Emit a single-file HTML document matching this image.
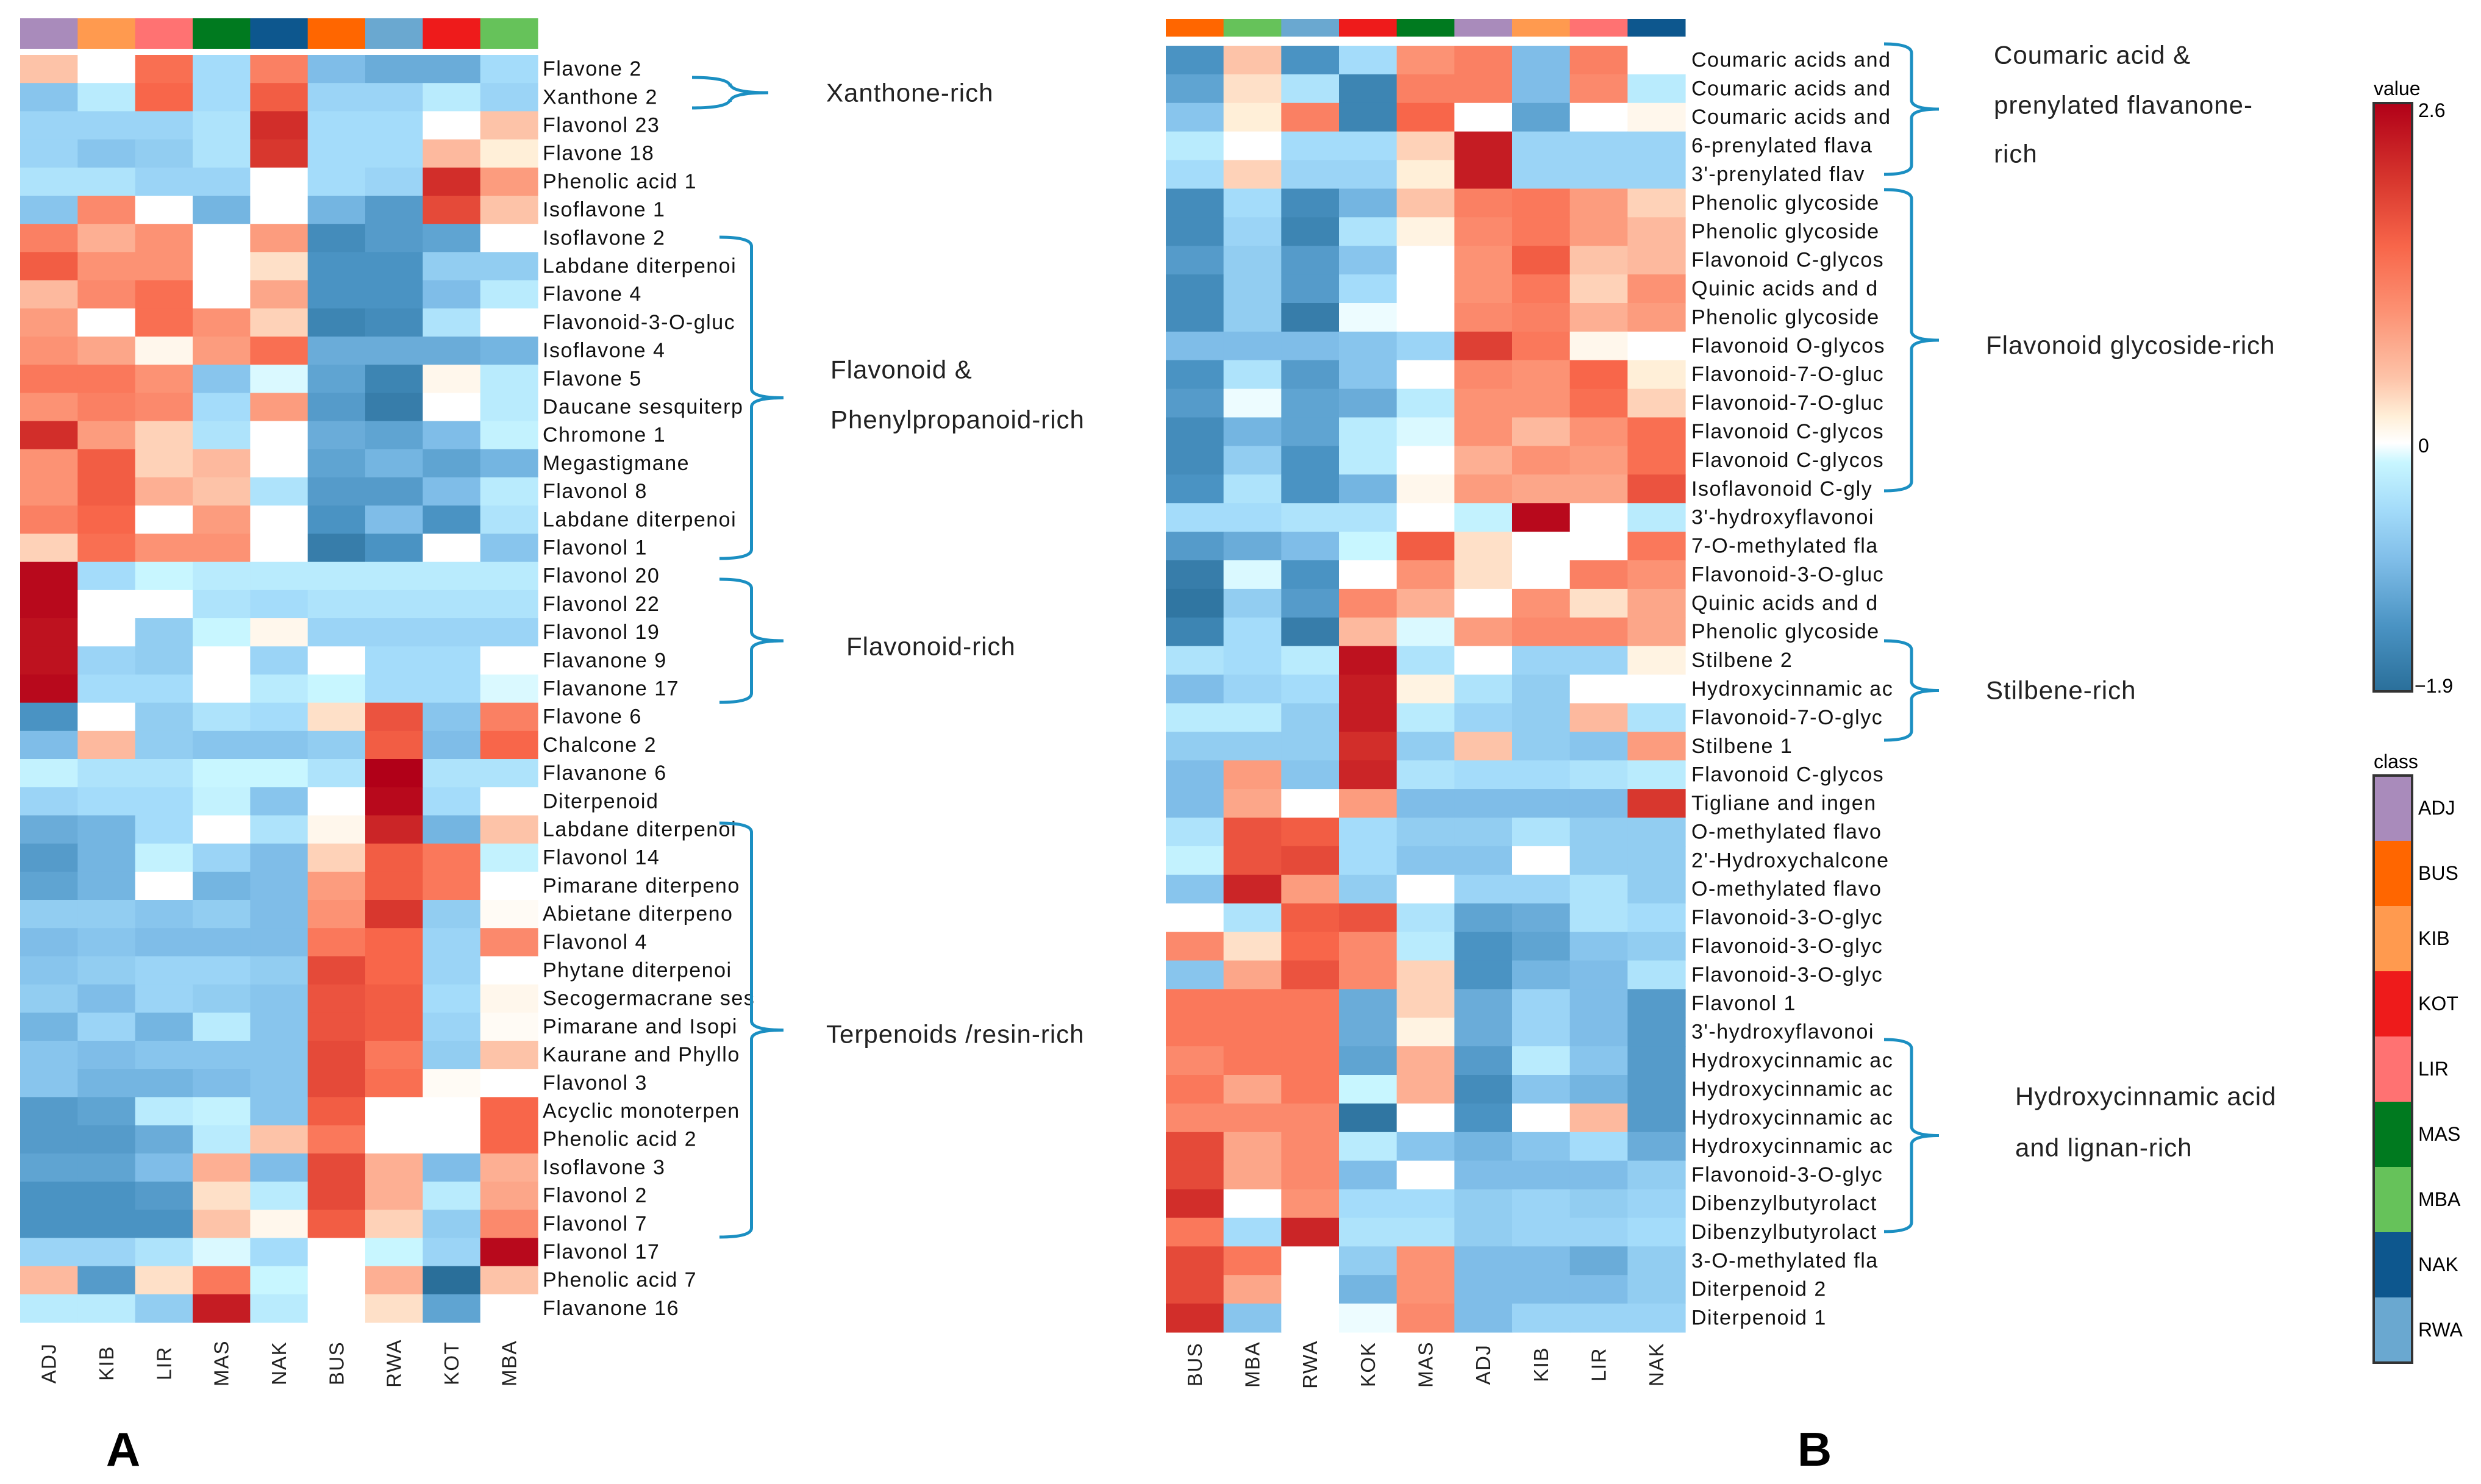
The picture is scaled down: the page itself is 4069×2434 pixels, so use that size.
<!DOCTYPE html>
<html><head><meta charset="utf-8"><style>
html,body{margin:0;padding:0;background:#fff;}
svg{display:block;font-family:"Liberation Sans",sans-serif;}
</style></head><body>
<svg id="fig" width="4069" height="2434" viewBox="0 0 4069 2434" xmlns="http://www.w3.org/2000/svg">
<defs>
<linearGradient id="cbar" x1="0" y1="1" x2="0" y2="0">
<stop offset="0" stop-color="#2a6f9a"/><stop offset="0.111" stop-color="#4a93c3"/><stop offset="0.222" stop-color="#7fbde8"/><stop offset="0.311" stop-color="#a4dcfa"/><stop offset="0.389" stop-color="#c8f6ff"/><stop offset="0.422" stop-color="#ffffff"/><stop offset="0.467" stop-color="#ffefd8"/><stop offset="0.533" stop-color="#fdc3a8"/><stop offset="0.644" stop-color="#fc9274"/><stop offset="0.756" stop-color="#f8664a"/><stop offset="0.867" stop-color="#d8372e"/><stop offset="1" stop-color="#b10018"/>
</linearGradient>
</defs>
<g id="panelA"></g>
<g id="panelB"></g>
<g id="ann" fill="none" stroke="#1b8fc2" stroke-width="5"></g>
<g>
<text x="3893" y="156" font-size="32">value</text>
<rect x="3893" y="169" width="63" height="965" fill="url(#cbar)" stroke="#333" stroke-width="4"/>
<text x="3966" y="192" font-size="32">2.6</text>
<text x="3966" y="742" font-size="32">0</text>
<text x="3960" y="1136" font-size="32">−1.9</text>
</g>
<g id="classLegend">
<text x="3893" y="1260" font-size="32">class</text>
</g>
<text x="202" y="2404" font-size="78" font-weight="bold" text-anchor="middle">A</text>
<text x="2976" y="2404" font-size="78" font-weight="bold" text-anchor="middle">B</text>
</svg>
<script>
const NS="http://www.w3.org/2000/svg";
const classColors={ADJ:"#a98bbb",BUS:"#ff6600",KIB:"#ff9a4f",KOT:"#ee1b1b",KOK:"#ee1b1b",LIR:"#ff7272",MAS:"#007a1f",MBA:"#66c25a",NAK:"#0d578e",RWA:"#6aa8d0"};
const legendClasses=["ADJ","BUS","KIB","KOT","LIR","MAS","MBA","NAK","RWA"];

const colsA=["ADJ","KIB","LIR","MAS","NAK","BUS","RWA","KOT","MBA"];
const rowsA=["Flavone 2","Xanthone 2","Flavonol 23","Flavone 18","Phenolic acid 1","Isoflavone 1","Isoflavone 2","Labdane diterpenoi","Flavone 4","Flavonoid-3-O-gluc","Isoflavone 4","Flavone 5","Daucane sesquiterp","Chromone 1","Megastigmane","Flavonol 8","Labdane diterpenoi","Flavonol 1","Flavonol 20","Flavonol 22","Flavonol 19","Flavanone 9","Flavanone 17","Flavone 6","Chalcone 2","Flavanone 6","Diterpenoid","Labdane diterpenoi","Flavonol 14","Pimarane diterpeno","Abietane diterpeno","Flavonol 4","Phytane diterpenoi","Secogermacrane ses","Pimarane and Isopi","Kaurane and Phyllo","Flavonol 3","Acyclic monoterpen","Phenolic acid 2","Isoflavone 3","Flavonol 2","Flavonol 7","Flavonol 17","Phenolic acid 7","Flavanone 16"];
const valuesA=[
[0.5,0,1.4,-0.5,1.2,-0.9,-1.1,-1.1,-0.5],
[-0.8,-0.3,1.5,-0.5,1.6,-0.6,-0.6,-0.3,-0.6],
[-0.6,-0.6,-0.6,-0.4,2.1,-0.5,-0.5,0,0.5],
[-0.6,-0.8,-0.7,-0.4,2.0,-0.5,-0.5,0.6,0.2],
[-0.4,-0.4,-0.6,-0.6,0,-0.5,-0.6,2.1,0.9],
[-0.8,1.1,0,-1.0,0,-1.0,-1.3,1.8,0.5],
[1.2,0.7,1.0,0,0.9,-1.5,-1.3,-1.2,0],
[1.6,1.0,1.0,0,0.3,-1.4,-1.4,-0.7,-0.7],
[0.6,1.1,1.4,0,0.8,-1.4,-1.4,-0.9,-0.3],
[0.9,0,1.4,1.0,0.4,-1.6,-1.5,-0.4,0],
[1.0,0.8,0.1,0.9,1.4,-1.1,-1.1,-1.1,-1.0],
[1.3,1.3,1.0,-0.8,-0.1,-1.2,-1.6,0.1,-0.3],
[1.0,1.2,1.1,-0.5,0.9,-1.3,-1.7,0,-0.3],
[2.1,0.9,0.4,-0.4,0,-1.1,-1.2,-0.9,-0.2],
[1.0,1.6,0.4,0.6,0,-1.2,-1.0,-1.2,-1.0],
[1.0,1.6,0.7,0.5,-0.4,-1.3,-1.3,-0.9,-0.3],
[1.2,1.5,0,0.9,0,-1.4,-0.9,-1.4,-0.4],
[0.4,1.4,1.0,1.0,0,-1.7,-1.4,0,-0.8],
[2.5,-0.5,-0.15,-0.3,-0.3,-0.3,-0.3,-0.3,-0.3],
[2.5,0,0,-0.4,-0.5,-0.4,-0.4,-0.4,-0.4],
[2.4,0,-0.7,-0.15,0.1,-0.6,-0.6,-0.6,-0.6],
[2.4,-0.6,-0.7,0,-0.6,0,-0.5,-0.5,0],
[2.5,-0.5,-0.5,0,-0.3,-0.15,-0.5,-0.5,-0.1],
[-1.4,0,-0.7,-0.4,-0.5,0.3,1.7,-0.8,1.2],
[-0.9,0.6,-0.7,-0.8,-0.8,-0.7,1.6,-0.9,1.5],
[-0.2,-0.4,-0.4,-0.15,-0.15,-0.4,2.6,-0.4,-0.4],
[-0.6,-0.5,-0.5,-0.2,-0.8,0,2.5,-0.5,0],
[-1.1,-1.0,-0.5,0,-0.4,0.1,2.2,-1.0,0.5],
[-1.3,-1.0,-0.2,-0.6,-0.9,0.4,1.6,1.3,-0.2],
[-1.2,-1.0,0,-1.0,-0.9,0.9,1.6,1.3,0],
[-0.7,-0.7,-0.8,-0.7,-0.9,1.0,2.0,-0.7,0.05],
[-0.9,-0.8,-0.9,-0.9,-0.9,1.3,1.5,-0.6,1.1],
[-0.8,-0.7,-0.6,-0.6,-0.7,1.8,1.5,-0.6,0],
[-0.7,-0.9,-0.6,-0.7,-0.8,1.7,1.6,-0.5,0.1],
[-1.0,-0.6,-1.0,-0.3,-0.8,1.7,1.6,-0.6,0.05],
[-0.8,-0.9,-0.8,-0.8,-0.8,1.8,1.3,-0.7,0.5],
[-0.8,-1.0,-1.0,-0.9,-0.8,1.8,1.4,0.05,0],
[-1.3,-1.2,-0.3,-0.2,-0.8,1.6,0,0,1.5],
[-1.3,-1.3,-1.1,-0.3,0.5,1.3,0,0,1.5],
[-1.2,-1.2,-0.9,0.7,-0.9,1.8,0.7,-0.9,0.7],
[-1.4,-1.4,-1.3,0.3,-0.3,1.8,0.7,-0.3,0.8],
[-1.4,-1.4,-1.4,0.5,0.1,1.6,0.4,-0.7,1.1],
[-0.6,-0.6,-0.4,-0.1,-0.5,0,-0.15,-0.6,2.5],
[0.6,-1.3,0.3,1.3,-0.15,0,0.7,-1.9,0.5],
[-0.3,-0.3,-0.7,2.3,-0.3,0,0.3,-1.2,0]
];

const colsB=["BUS","MBA","RWA","KOK","MAS","ADJ","KIB","LIR","NAK"];
const rowsB=["Coumaric acids and","Coumaric acids and","Coumaric acids and","6-prenylated flava","3'-prenylated flav","Phenolic glycoside","Phenolic glycoside","Flavonoid C-glycos","Quinic acids and d","Phenolic glycoside","Flavonoid O-glycos","Flavonoid-7-O-gluc","Flavonoid-7-O-gluc","Flavonoid C-glycos","Flavonoid C-glycos","Isoflavonoid C-gly","3'-hydroxyflavonoi","7-O-methylated fla","Flavonoid-3-O-gluc","Quinic acids and d","Phenolic glycoside","Stilbene 2","Hydroxycinnamic ac","Flavonoid-7-O-glyc","Stilbene 1","Flavonoid C-glycos","Tigliane and ingen","O-methylated flavo","2'-Hydroxychalcone","O-methylated flavo","Flavonoid-3-O-glyc","Flavonoid-3-O-glyc","Flavonoid-3-O-glyc","Flavonol 1","3'-hydroxyflavonoi","Hydroxycinnamic ac","Hydroxycinnamic ac","Hydroxycinnamic ac","Hydroxycinnamic ac","Flavonoid-3-O-glyc","Dibenzylbutyrolact","Dibenzylbutyrolact","3-O-methylated fla","Diterpenoid 2","Diterpenoid 1"];
const valuesB=[
[-1.4,0.5,-1.4,-0.5,1.0,1.2,-0.9,1.2,0],
[-1.2,0.3,-0.4,-1.6,1.2,1.2,-0.9,1.1,-0.3],
[-0.8,0.2,1.2,-1.6,1.5,0,-1.2,0,0.1],
[-0.3,0,-0.5,-0.5,0.4,2.3,-0.6,-0.6,-0.6],
[-0.5,0.4,-0.6,-0.6,0.2,2.3,-0.6,-0.6,-0.6],
[-1.5,-0.5,-1.5,-1.0,0.5,1.2,1.3,0.9,0.4],
[-1.5,-0.6,-1.6,-0.4,0.15,1.1,1.3,0.9,0.6],
[-1.3,-0.7,-1.3,-0.8,0,1.0,1.6,0.5,0.6],
[-1.5,-0.7,-1.3,-0.5,0,1.0,1.3,0.4,1.0],
[-1.5,-0.7,-1.7,-0.05,0,1.1,1.2,0.7,0.9],
[-0.9,-0.9,-0.9,-0.8,-0.6,1.9,1.3,0.1,0],
[-1.4,-0.4,-1.3,-0.8,0,1.1,1.0,1.5,0.2],
[-1.3,-0.05,-1.2,-1.1,-0.3,1.0,1.0,1.4,0.4],
[-1.5,-1.0,-1.2,-0.3,-0.1,1.0,0.6,1.0,1.4],
[-1.5,-0.7,-1.4,-0.3,0,0.7,1.0,0.9,1.4],
[-1.4,-0.4,-1.4,-1.0,0.1,0.9,0.8,0.8,1.7],
[-0.5,-0.5,-0.4,-0.4,0,-0.2,2.5,0,-0.3],
[-1.3,-1.1,-0.9,-0.15,1.6,0.3,0,0,1.3],
[-1.7,-0.1,-1.4,0,1.0,0.3,0,1.2,1.0],
[-1.8,-0.7,-1.3,1.1,0.7,0,1.0,0.3,0.8],
[-1.6,-0.5,-1.7,0.6,-0.1,0.9,1.1,1.1,0.8],
[-0.4,-0.5,-0.3,2.4,-0.4,0,-0.6,-0.6,0.15],
[-0.9,-0.6,-0.5,2.3,0.15,-0.4,-0.7,0,0],
[-0.3,-0.3,-0.7,2.3,-0.3,-0.6,-0.7,0.6,-0.4],
[-0.7,-0.7,-0.7,2.1,-0.7,0.5,-0.7,-0.8,0.9],
[-0.9,0.9,-0.8,2.2,-0.4,-0.5,-0.5,-0.4,-0.3],
[-0.9,0.8,0,0.9,-0.9,-0.9,-0.9,-0.9,2.0],
[-0.4,1.7,1.6,-0.5,-0.7,-0.7,-0.4,-0.7,-0.7],
[-0.2,1.7,1.8,-0.5,-0.8,-0.8,0,-0.7,-0.7],
[-0.8,2.2,0.9,-0.7,0,-0.6,-0.6,-0.4,-0.7],
[0,-0.4,1.6,1.7,-0.4,-1.2,-1.1,-0.4,-0.5],
[1.1,0.3,1.5,1.1,-0.3,-1.4,-1.2,-0.8,-0.7],
[-0.8,0.8,1.7,1.1,0.4,-1.4,-1.0,-0.9,-0.4],
[1.3,1.3,1.3,-1.1,0.4,-1.1,-0.6,-0.9,-1.3],
[1.3,1.3,1.3,-1.1,0.15,-1.1,-0.6,-0.9,-1.3],
[1.1,1.3,1.3,-1.2,0.7,-1.3,-0.3,-0.8,-1.3],
[1.3,0.8,1.3,-0.15,0.7,-1.5,-0.8,-1.0,-1.3],
[1.1,1.1,1.1,-1.8,0,-1.4,0,0.6,-1.3],
[1.8,0.8,1.1,-0.3,-0.8,-1.0,-0.8,-0.5,-1.1],
[1.8,0.8,1.1,-0.9,0,-0.9,-0.9,-0.9,-0.7],
[2.1,0,1.0,-0.5,-0.5,-0.7,-0.6,-0.7,-0.6],
[1.3,-0.5,2.2,-0.4,-0.4,-0.7,-0.6,-0.6,-0.5],
[1.8,1.3,0,-0.7,1.0,-0.9,-0.9,-1.1,-0.7],
[1.8,0.8,0,-1.0,1.0,-0.9,-0.9,-0.9,-0.7],
[2.1,-0.8,0,-0.05,1.1,-0.9,-0.6,-0.6,-0.6]
];

const stops=[[-1.9,[42,111,154]],[-1.4,[74,147,195]],[-0.9,[127,189,232]],[-0.5,[164,220,250]],[-0.15,[200,246,255]],[0,[255,255,255]],[0.2,[255,239,216]],[0.5,[253,195,168]],[1.0,[252,146,116]],[1.5,[248,102,74]],[2.0,[216,55,46]],[2.6,[177,0,24]]];
function color(v){
  if(v<=stops[0][0])return "rgb("+stops[0][1]+")";
  for(let i=1;i<stops.length;i++){
    if(v<=stops[i][0]){const a=stops[i-1],b=stops[i];const t=(v-a[0])/(b[0]-a[0]);
      const c=a[1].map((x,k)=>Math.round(x+(b[1][k]-x)*t));return "rgb("+c.join(",")+")";}
  }
  return "rgb("+stops[stops.length-1][1]+")";
}
function mk(tag,attrs,parent){const e=document.createElementNS(NS,tag);for(const k in attrs)e.setAttribute(k,attrs[k]);parent.appendChild(e);return e;}

function drawHeatmap(g,cols,rows,vals,x0,x1,y0,y1,barY0,barY1,labelX,colLabelY,prefix){
  const cw=(x1-x0)/cols.length, rh=(y1-y0)/rows.length;
  const xs=i=>x0+i*cw, ys=j=>y0+j*rh;
  cols.forEach((c,i)=>{
    const r=mk("rect",{x:xs(i),y:barY0,width:cw+0.5,height:barY1-barY0,fill:classColors[c]},g);
    
    
    const t=mk("text",{x:0,y:0,"font-size":33,"letter-spacing":1.5,"text-anchor":"middle","dominant-baseline":"central",transform:"translate("+(xs(i)+cw/2)+","+colLabelY+") rotate(-90)",fill:"#222"},g);
    t.textContent=c;
    
    
  });
  rows.forEach((rn,j)=>{
    vals[j].forEach((v,i)=>{
      const r=mk("rect",{x:xs(i),y:ys(j),width:cw+0.6,height:rh+0.6,fill:color(v)},g);
      
      
    });
    const t=mk("text",{x:labelX,y:ys(j)+rh/2,"font-size":34,"letter-spacing":1.5,"dominant-baseline":"central",fill:"#111"},g);
    t.textContent=rn;
    
    
  });
}
drawHeatmap(document.getElementById("panelA"),colsA,rowsA,valuesA,33,882,90,2169,30,80,890,2236,"a-");
drawHeatmap(document.getElementById("panelB"),colsB,rowsB,valuesB,1912,2764,75,2185,31,60,2774,2238,"b-");

const cl=document.getElementById("classLegend");
legendClasses.forEach((c,i)=>{
  const y=1272+i*107;
  const r=mk("rect",{x:3893,y:y,width:63,height:107,fill:classColors[c]},cl);
  
  
  const t=mk("text",{x:3966,y:y+53,"font-size":32,"dominant-baseline":"central"},cl);
  t.textContent=c;
  
  
});
mk("rect",{x:3893,y:1272,width:63,height:963,fill:"none",stroke:"#333","stroke-width":4},cl);

const ann=document.getElementById("ann");
function brace(x0,x1,top,bot){
  const mid=(top+bot)/2, xm=(x0+x1)/2;
  return "M"+x0+","+top+" Q"+xm+","+top+" "+xm+","+(top+15)+" L"+xm+","+(mid-15)+" Q"+xm+","+mid+" "+x1+","+mid+" Q"+xm+","+mid+" "+xm+","+(mid+15)+" L"+xm+","+(bot-15)+" Q"+xm+","+bot+" "+x0+","+bot;
}
const brs=[[1135,1260,127,177],[1180,1285,389,916],[1180,1285,950,1152],[1180,1285,1350,2029],[3090,3180,72,286],[3090,3180,311,805],[3090,3180,1051,1214],[3090,3180,1705,2020]];
brs.forEach(b=>{
  const p=mk("path",{d:brace(b[0],b[1],b[2],b[3])},ann);
  
  
});
const labels=[[1355,152,"Xanthone-rich"],[1362,606,"Flavonoid &"],[1362,688,"Phenylpropanoid-rich"],[1388,1060,"Flavonoid-rich"],[1355,1696,"Terpenoids /resin-rich"],[3270,90,"Coumaric acid &"],[3270,172,"prenylated flavanone-"],[3270,252,"rich"],[3257,566,"Flavonoid glycoside-rich"],[3257,1132,"Stilbene-rich"],[3305,1798,"Hydroxycinnamic acid"],[3305,1882,"and lignan-rich"]];
labels.forEach(l=>{
  const t=mk("text",{x:l[0],y:l[1],"font-size":42,"letter-spacing":1,"dominant-baseline":"central",fill:"#222",stroke:"none"},ann);
  t.textContent=l[2];
  
  
});
</script>
</body></html>
